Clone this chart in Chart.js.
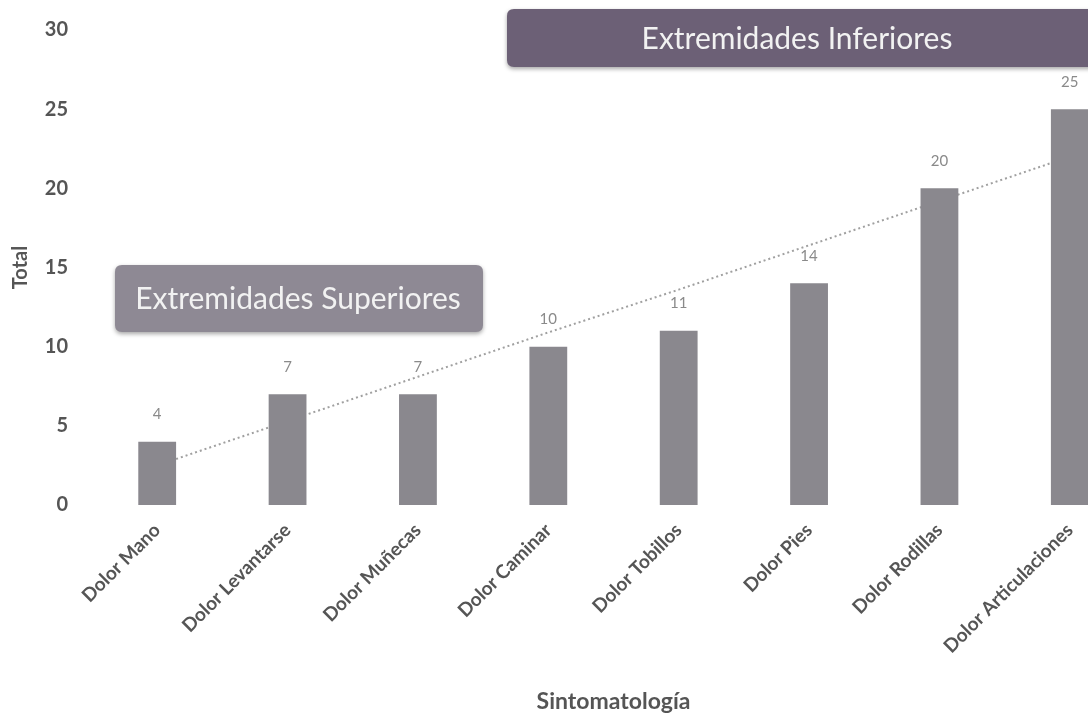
<!DOCTYPE html>
<html><head><meta charset="utf-8">
<script src="https://cdn.jsdelivr.net/npm/chart.js@4.4.0/dist/chart.umd.min.js"></script>
<style>
html,body{margin:0;padding:0;background:#fff;overflow:hidden;width:1088px;height:719px;}
#wrap{position:absolute;left:0;top:0;width:1135px;height:719px;}
</style></head>
<body>
<div id="wrap"><canvas id="c" width="1135" height="719"></canvas></div>
<script>
const categories = ["Dolor Mano","Dolor Levantarse","Dolor Muñecas","Dolor Caminar","Dolor Tobillos","Dolor Pies","Dolor Rodillas","Dolor Articulaciones"];
const totals = [4,7,7,10,11,14,20,25];
const trend = [2.5,5.3,8.1,10.9,13.6,16.4,19.2,22.0];
const yTicks = [0,5,10,15,20,25,30];
const groupLabels = ["Extremidades Superiores","Extremidades Inferiores"];
const xTitle = "Sintomatología";
const yTitle = "Total";

const FONT = 'Lato, "Open Sans", sans-serif';

const valueLabels = {
  id:'valueLabels',
  afterDatasetsDraw(chart){
    const ctx = chart.ctx;
    const meta = chart.getDatasetMeta(1);
    ctx.save();
    ctx.font = '15px ' + FONT;
    ctx.fillStyle = '#8a8a8a';
    ctx.textAlign = 'center';
    ctx.textBaseline = 'bottom';
    meta.data.forEach((bar,i)=>{
      ctx.fillText(String(totals[i]), bar.x, bar.y - 20);
    });
    ctx.restore();
  }
};

function roundRect(ctx,x,y,w,h,r){
  ctx.beginPath();
  ctx.moveTo(x+r,y);ctx.lineTo(x+w-r,y);ctx.quadraticCurveTo(x+w,y,x+w,y+r);
  ctx.lineTo(x+w,y+h-r);ctx.quadraticCurveTo(x+w,y+h,x+w-r,y+h);
  ctx.lineTo(x+r,y+h);ctx.quadraticCurveTo(x,y+h,x,y+h-r);
  ctx.lineTo(x,y+r);ctx.quadraticCurveTo(x,y,x+r,y);ctx.closePath();
}

const groupBoxes = {
  id:'groupBoxes',
  afterDraw(chart){
    const ctx = chart.ctx;
    const boxes = [
      {x:115,y:265,w:368,h:67,fill:'#8e8994',text:groupLabels[0],tx:298,ty:299},
      {x:507,y:9,w:640,h:58,fill:'#6c6076',text:groupLabels[1],tx:797,ty:39}
    ];
    ctx.save();
    boxes.forEach(b=>{
      ctx.shadowColor='rgba(0,0,0,0.35)';ctx.shadowBlur=4;ctx.shadowOffsetY=2;
      roundRect(ctx,b.x,b.y,b.w,b.h,7);
      ctx.fillStyle=b.fill;ctx.fill();
      ctx.shadowColor='transparent';
      ctx.font='30px '+FONT;ctx.fillStyle='#f2f2f2';
      ctx.textAlign='center';ctx.textBaseline='middle';
      ctx.fillText(b.text,b.tx,b.ty);
    });
    ctx.restore();
  }
};

new Chart(document.getElementById('c'),{
  data:{
    labels:categories,
    datasets:[
      {type:'line',data:trend,borderColor:'#a0a0a0',borderWidth:2,borderDash:[2,3],pointRadius:0,fill:false,order:2},
      {type:'bar',data:totals,backgroundColor:'#8a888e',categoryPercentage:1,barPercentage:0.29,order:1}
    ]
  },
  options:{
    responsive:false,animation:false,
    layout:{padding:{top:30,left:0,right:0,bottom:0}},
    plugins:{legend:{display:false},tooltip:{enabled:false}},
    scales:{
      x:{
        grid:{display:false,drawTicks:false},border:{display:false},
        ticks:{minRotation:45,maxRotation:45,color:'#555',font:{family:FONT,size:19,weight:'bold'},padding:14},
        title:{display:true,text:xTitle,color:'#555',font:{family:FONT,size:23,weight:'bold'},padding:{top:0,bottom:4}},
        afterFit(s){s.height=214;}
      },
      y:{
        min:0,max:30,
        grid:{display:false,drawTicks:false},border:{display:false},
        afterBuildTicks(s){s.ticks=yTicks.map(v=>({value:v}));},
        ticks:{color:'#555',font:{family:FONT,size:20,weight:'bold'},padding:24},
        title:{display:true,text:yTitle,color:'#555',font:{family:FONT,size:20,weight:'bold'},padding:{top:9,bottom:0}},
        afterFit(s){s.width=92;s.paddingTop=0;s.paddingBottom=0;}
      }
    }
  },
  plugins:[valueLabels,groupBoxes]
});
</script>
</body></html>
